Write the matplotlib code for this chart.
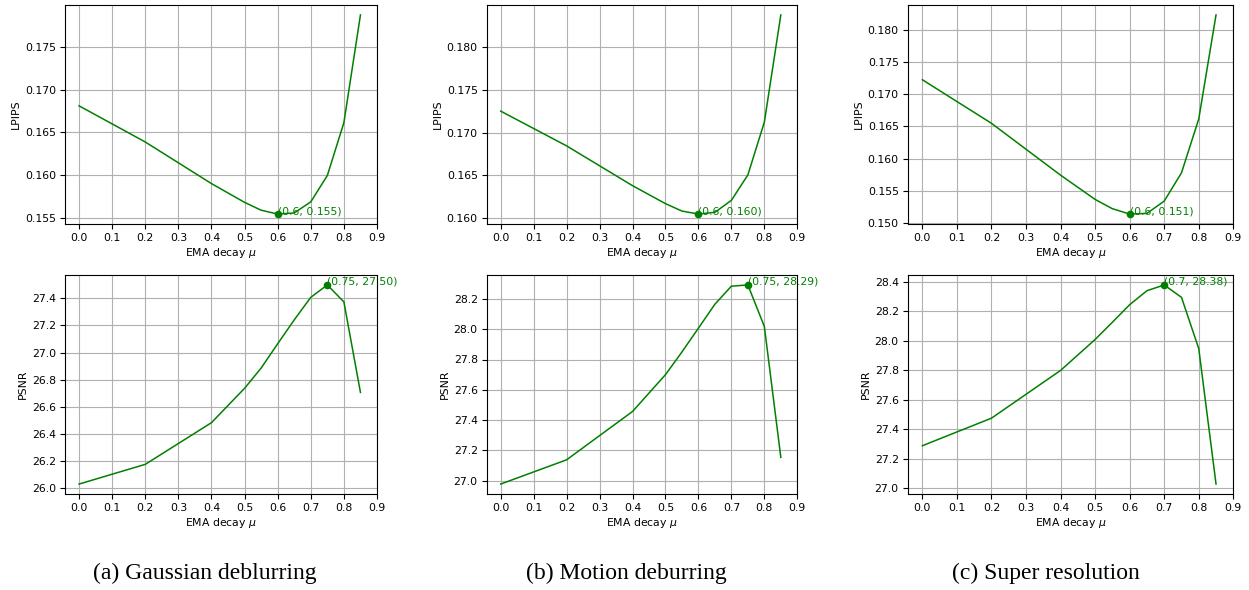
import matplotlib
matplotlib.use('Agg')
import matplotlib.pyplot as plt
import numpy as np

# EMA decay values used in every panel
mu = [0.0, 0.2, 0.4, 0.5, 0.55, 0.6, 0.65, 0.7, 0.75, 0.8, 0.85]

# LPIPS (lower is better)
lpips_gauss = [0.16812, 0.16388, 0.15900, 0.15680, 0.15588, 0.15543, 0.15556, 0.15686, 0.15995, 0.16615, 0.17878]
lpips_motion = [0.17251, 0.16843, 0.16376, 0.16165, 0.16078, 0.16043, 0.16063, 0.16204, 0.16502, 0.17122, 0.18380]
lpips_sr = [0.17228, 0.16549, 0.15741, 0.15363, 0.15218, 0.15135, 0.15145, 0.15337, 0.15777, 0.16617, 0.18238]

# PSNR (higher is better)
psnr_gauss = [26.032, 26.177, 26.484, 26.737, 26.886, 27.065, 27.241, 27.407, 27.498, 27.373, 26.707]
psnr_motion = [26.978, 27.138, 27.457, 27.700, 27.850, 28.007, 28.165, 28.284, 28.292, 28.018, 27.154]
psnr_sr = [27.289, 27.476, 27.800, 28.010, 28.127, 28.246, 28.341, 28.380, 28.296, 27.948, 27.029]

captions = ['(a) Gaussian deblurring', '(b) Motion deburring', '(c) Super resolution']
xticks = [0.0, 0.1, 0.2, 0.3, 0.4, 0.5, 0.6, 0.7, 0.8, 0.9]

W, H = 1249, 590
fig = plt.figure(figsize=(W / 100, H / 100), dpi=100)

FS = 7.8
plt.rcParams['font.size'] = FS
plt.rcParams['xtick.labelsize'] = FS
plt.rcParams['ytick.labelsize'] = FS


def px_axes(left, top, right, bottom):
    return fig.add_axes([left / W, 1 - bottom / H, (right - left) / W, (bottom - top) / H])


def panel(ax, y, ylabel, best, fmt):
    ax.plot(mu, y, color='green', lw=1.1)
    i = int(np.argmin(y)) if best == 'min' else int(np.argmax(y))
    ax.plot(mu[i], y[i], 'o', color='green', ms=4.5)
    ax.text(mu[i], y[i], '({}, {})'.format(mu[i], format(y[i], fmt)), color='green', fontsize=FS)
    ax.set_xticks(xticks)
    ax.grid(True, color='#b0b0b0', lw=0.8)
    ax.set_ylabel(ylabel, fontsize=FS, labelpad=3)
    ax.set_xlabel(r'EMA decay $\mu$', fontsize=FS, labelpad=2)
    ax.tick_params(length=3.4, width=0.8, pad=3)


cols = [(65, 377), (486.7, 797.3), (907.7, 1233.3)]
lp = [lpips_gauss, lpips_motion, lpips_sr]
ps = [psnr_gauss, psnr_motion, psnr_sr]

for k, (l, r) in enumerate(cols):
    ax_top = px_axes(l, 5, r, 224)
    panel(ax_top, lp[k], 'LPIPS', 'min', '.3f')
    ax_bot = px_axes(l, 275, r, 494)
    panel(ax_bot, ps[k], 'PSNR', 'max', '.2f')

centers = [204.5, 626, 1045.5]
for c, txt in zip(centers, captions):
    fig.text(c / W, 1 - 573 / H, txt, ha='center', va='center',
             family='Liberation Serif', fontsize=17)

fig.savefig('out.png', dpi=100)
